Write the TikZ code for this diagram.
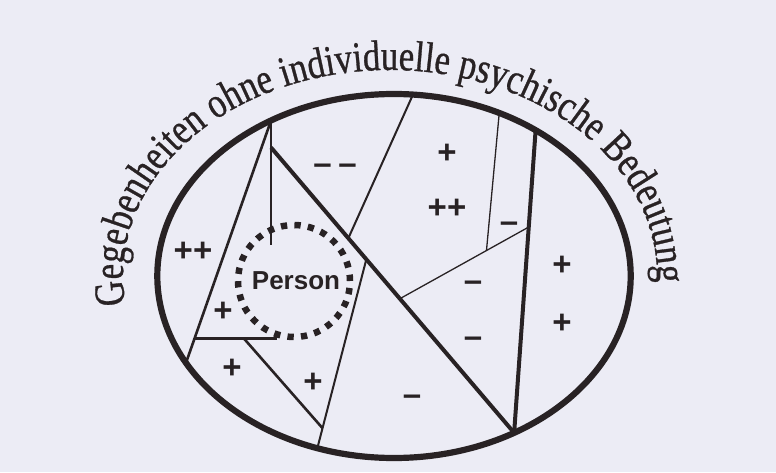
\documentclass[tikz,border=0pt]{standalone}
\usepackage{fontspec}
\setmainfont{Liberation Serif}
\newfontfamily\sansf{Liberation Sans}
\newfontfamily\curveff{Liberation Serif}[FakeStretch=0.81,FakeBold=0.7]
\usetikzlibrary{decorations.text,calc}
\definecolor{bg}{RGB}{236,236,245}
\definecolor{ink}{RGB}{40,34,36}
\newcommand\curvefont{\curveff\fontsize{43}{48}\selectfont\color{ink}}
\tikzset{
  rim/.style={draw=ink,line width=6.2},
  thick line/.style={draw=ink,line width=4},
  mid line/.style={draw=ink,line width=2.6},
  slim line/.style={draw=ink,line width=2},
  hair line/.style={draw=ink,line width=1.3},
  plus/.style={font=\sansf\bfseries\fontsize{33}{33}\selectfont,text=ink,anchor=base,inner sep=0pt,yshift=-11.8pt},
  minus/.style={font=\sansf\bfseries\fontsize{33}{33}\selectfont,text=ink,anchor=base,inner sep=0pt,yshift=-9pt},
  personlabel/.style={font=\sansf\bfseries\fontsize{26}{26}\selectfont,text=ink,inner sep=0pt}
}
\begin{document}
\begin{tikzpicture}[x=1pt,y=1pt]
\fill[bg] (0,0) rectangle (776,472);
\useasboundingbox (0,0) rectangle (776,472);
\coordinate (O) at (394,196);
\coordinate (T) at (390,196);
% outer ellipse
\path[rim] (O) ellipse [x radius=236.7, y radius=182];
% points on the ellipse
\coordinate (A) at ($(O)+(121.3:236.7 and 182)$);
\coordinate (E1) at ($(O)+(208.5:236.7 and 182)$);
\coordinate (B) at ($(O)+(-59.5:236.7 and 182)$);
\coordinate (C) at ($(O)+(53.25:236.7 and 182)$);
\coordinate (F) at ($(O)+(63.6:236.7 and 182)$);
\coordinate (G) at ($(O)+(85.4:236.7 and 182)$);
\coordinate (H) at ($(O)+(251.1:236.7 and 182)$);
% person circle
\coordinate (P) at (294,191);
\draw[ink,line width=6.5,dash pattern=on 6.3pt off 7.24pt] (P) circle[radius=56];
\node[personlabel] (person) at (296,191) {Person};
% interior points
\coordinate (Atop) at ($(A)+(0,-125)$);
\coordinate (P1) at ($(A)+(0,-27)$);
\coordinate (S1) at ($(P1)!0.318!(B)$);
\coordinate (S2) at ($(P1)!0.392!(B)$);
\coordinate (D) at ($(P1)!0.530!(B)$);
\coordinate (K) at ($(C)!0.32!(B)$);
\coordinate (L) at ($(D)!0.672!(K)$);
\coordinate (M1) at ($(A)!0.9!(E1)$);
\coordinate (M2) at ($(M1)+(82.5,0)$);
\coordinate (M3) at ($(M1)!0.6!(M2)$);
\coordinate (N) at ($(S2)!0.894!(H)$);
% lines
\path[mid line] (A) -- (E1);
\path[mid line] (A) -- (Atop);
\path[thick line] (P1) -- (B);
\path[thick line] (C) -- (B);
\path[hair line] (F) -- (L);
\path[hair line] (D) -- (K);
\path[slim line] (G) -- (S1);
\path[slim line] (S2) -- (H);
\path[thick line,line width=3] (M1) -- (M2);
\path[mid line] (M3) -- (N);
% signs
\node[plus] (s1) at (193,222) {++};
\node[plus] (s2) at (223,162) {+};
\node[plus] (s3) at (232,105) {+};
\node[plus] (s4) at (313,91) {+};
\node[minus] (s5) at (335,306) {–\hspace{0.2em}–};
\node[plus] (s6) at (447,320) {+};
\node[plus] (s7) at (447,265) {++};
\node[minus] (s8) at (509,249) {–};
\node[minus] (s9) at (473,190) {–};
\node[plus] (s10) at (562,208) {+};
\node[minus] (s11) at (473,134) {–};
\node[plus] (s12) at (562,150) {+};
\node[minus] (s13) at (412,76) {–};
% curved title
\path[decorate,decoration={text along path,text align=center,
  text={|\curvefont|Gegebenheiten ohne individuelle psychische Bedeutung}}]
  ($(T)+(200:267 and 206)$) arc[start angle=200,end angle=-14,x radius=267,y radius=206];
\end{tikzpicture}
\end{document}
